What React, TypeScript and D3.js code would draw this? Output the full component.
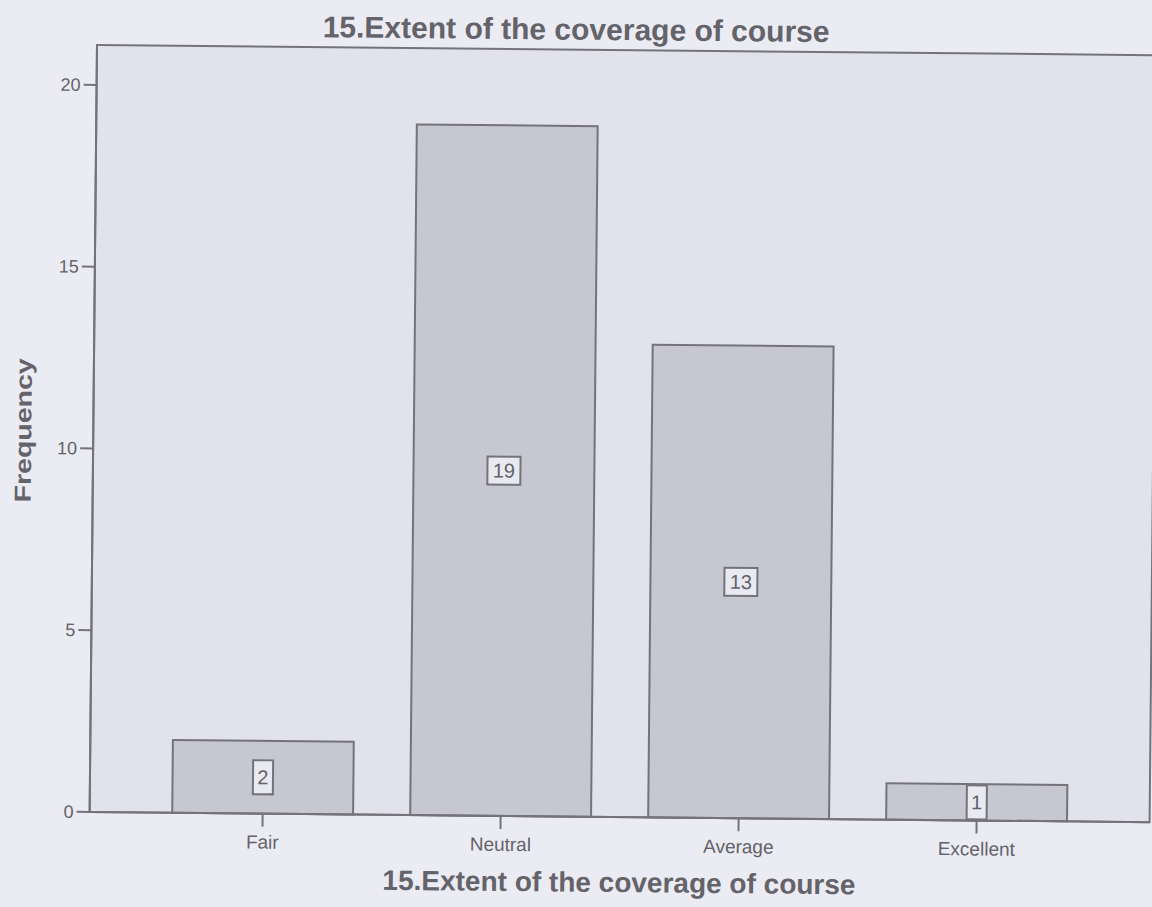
import React from "react";
import * as d3 from "d3";

const categories: string[] = ["Fair", "Neutral", "Average", "Excellent"];
const frequencies: number[] = [2, 19, 13, 1];
const yTicks: number[] = [0, 5, 10, 15, 20];
const chartTitle = "15.Extent of the coverage of course";
const xAxisTitle = "15.Extent of the coverage of course";
const yAxisTitle = "Frequency";

const WIDTH = 1152;
const HEIGHT = 907;
const PLOT_LEFT = 97;
const PLOT_TOP = 45;
const PLOT_W = 1060;
const PLOT_H = 767;
const TILT = 0.55;

const PAGE_BG = "#ebebf4";
const PLOT_BG = "#e2e2ec";
const BAR_FILL = "#c7c7d1";
const LINE = "#737379";
const TEXT = "#636369";
const FONT = "'Liberation Sans', Arial, sans-serif";

export default function App() {
  const x = d3
    .scaleBand<string>()
    .domain(categories)
    .range([0, PLOT_W])
    .paddingInner(0.24)
    .paddingOuter(0.347);
  const y = d3.scaleLinear().domain([0, 21.1]).range([PLOT_H, 0]);

  return (
    <div style={{ position: "absolute", left: 0, top: 0 }}>
      <svg width={WIDTH} height={HEIGHT} style={{ display: "block", background: PAGE_BG }}>
        <rect x={0} y={0} width={WIDTH} height={HEIGHT} fill={PAGE_BG} />
        <g transform={`rotate(${TILT} ${PLOT_LEFT} ${PLOT_TOP})`} fontFamily={FONT}>
          <text
            x={WIDTH / 2}
            y={PLOT_TOP - 10}
            textAnchor="middle"
            fontSize={30}
            fontWeight="bold"
            fill={TEXT}
          >
            {chartTitle}
          </text>
          <g transform={`translate(${PLOT_LEFT},${PLOT_TOP})`}>
            <rect x={0} y={0} width={PLOT_W} height={PLOT_H} fill={PLOT_BG} stroke={LINE} strokeWidth={2} />
            {categories.map((c, i) => {
              const v = frequencies[i];
              const bx = x(c) as number;
              const bw = x.bandwidth();
              const top = y(v);
              const label = String(v);
              const boxW = 7 + 13 * label.length;
              const boxH = label.length > 1 ? 28 : 34;
              const cy = (y(v) + y(0)) / 2;
              const cx = bx + bw / 2;
              return (
                <g key={c}>
                  <rect
                    x={bx}
                    y={top}
                    width={bw}
                    height={PLOT_H - top}
                    fill={BAR_FILL}
                    stroke={LINE}
                    strokeWidth={2}
                  />
                  <rect
                    x={cx - boxW / 2}
                    y={cy - boxH / 2}
                    width={boxW}
                    height={boxH}
                    fill="#e9e9f2"
                    stroke={LINE}
                    strokeWidth={2}
                  />
                  <text
                    x={cx}
                    y={cy}
                    textAnchor="middle"
                    dominantBaseline="central"
                    fontSize={20}
                    fill={TEXT}
                  >
                    {label}
                  </text>
                </g>
              );
            })}
            <line x1={0} x2={PLOT_W} y1={PLOT_H} y2={PLOT_H} stroke={LINE} strokeWidth={2} />
            <line x1={0} x2={0} y1={0} y2={PLOT_H} stroke={LINE} strokeWidth={2} />
            {yTicks.map((t) => (
              <g key={t} transform={`translate(0,${y(t)})`}>
                <line x1={-13} x2={0} y1={0} y2={0} stroke={LINE} strokeWidth={2} />
                <text
                  x={-16}
                  y={0}
                  textAnchor="end"
                  dominantBaseline="central"
                  fontSize={18}
                  fill={TEXT}
                >
                  {t}
                </text>
              </g>
            ))}
            {categories.map((c) => {
              const cx = (x(c) as number) + x.bandwidth() / 2;
              return (
                <g key={c} transform={`translate(${cx},${PLOT_H})`}>
                  <line x1={0} x2={0} y1={0} y2={13} stroke={LINE} strokeWidth={2} />
                  <text x={0} y={35} textAnchor="middle" fontSize={19} fill={TEXT}>
                    {c}
                  </text>
                </g>
              );
            })}
            <text
              x={PLOT_W / 2}
              y={PLOT_H + 75}
              textAnchor="middle"
              fontSize={28}
              fontWeight="bold"
              fill={TEXT}
            >
              {xAxisTitle}
            </text>
            <text
              transform={`translate(-70,386) rotate(-90)`}
              textAnchor="middle"
              dominantBaseline="central"
              fontSize={23}
              fontWeight="bold"
              fill={TEXT}
              textLength={144}
              lengthAdjust="spacingAndGlyphs"
            >
              {yAxisTitle}
            </text>
          </g>
        </g>
      </svg>
    </div>
  );
}
